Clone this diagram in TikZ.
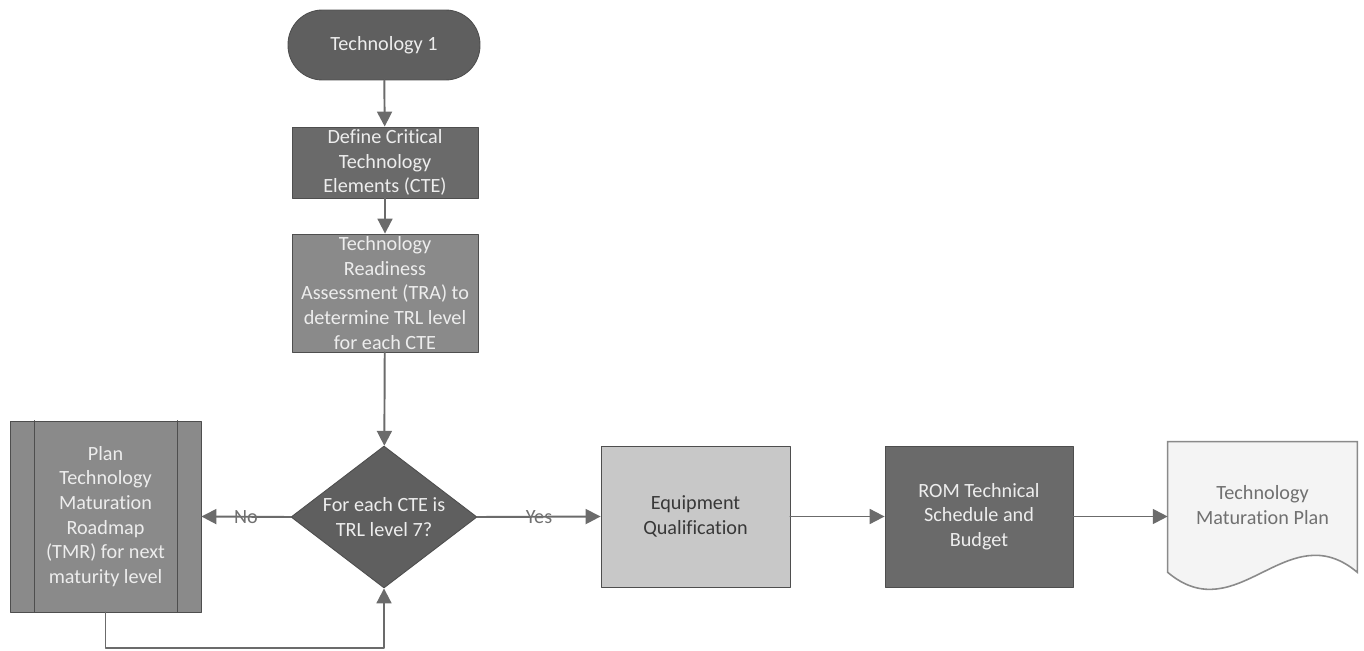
\documentclass[tikz,border=0pt]{standalone}
\usepackage{fontspec}
\setmainfont{Carlito}[Ligatures=NoCommon]
\usepackage{tikz}
\usetikzlibrary{calc,arrows.meta,shapes.geometric,positioning}
\definecolor{linegray}{HTML}{6B6B6B}
\definecolor{edgegray}{HTML}{4E4E4E}
\definecolor{boxdark}{HTML}{6A6A6A}
\definecolor{boxmid}{HTML}{8A8A8A}
\definecolor{boxlight}{HTML}{C8C8C8}
\definecolor{docfill}{HTML}{F4F4F4}
\definecolor{textlight}{HTML}{EDEDED}
\definecolor{textdark}{HTML}{383838}
\definecolor{textdoc}{HTML}{707070}
\pgfdeclarelayer{background}
\pgfsetlayers{background,main}
\tikzset{
  FlowLine/.style={
    draw=linegray, line width=1.1pt,
    -{Triangle[length=8.5pt,width=8.5pt]}
  },
  BoxBase/.style={
    rectangle, draw=edgegray, line width=0.5pt,
    align=center, inner sep=0pt,
    font=\fontsize{11.5pt}{14pt}\selectfont
  },
  DarkBox/.style={BoxBase, fill=boxdark, text=textlight},
  MidBox/.style={BoxBase, fill=boxmid, text=textlight},
  LightBox/.style={BoxBase, fill=boxlight, text=textdark},
  BranchLabel/.style={text=textdoc, font=\fontsize{11.5pt}{14pt}\selectfont}
}

\begin{document}
\begin{tikzpicture}[x=0.02cm, y=-0.02cm, line cap=round, line join=round]
  \useasboundingbox (0,0) rectangle (1364,651);

  % vertical column
  \node[DarkBox, fill=boxdark!90!black, rounded corners=0.69cm,
        minimum width=3.84cm, minimum height=1.4cm] (tech) at (384,45) {Technology 1};
  \node[DarkBox, minimum width=3.72cm, minimum height=1.42cm]
        (cte) at (385,162.5) {Define Critical\\Technology\\Elements (CTE)};
  \node[MidBox, minimum width=3.72cm, minimum height=2.36cm]
        (tra) at (385,293) {Technology\\Readiness\\Assessment (TRA) to\\determine TRL level\\for each CTE};
  \node[DarkBox, fill=boxdark!90!black, shape=diamond, aspect=1.31,
        minimum width=3.72cm, minimum height=2.84cm] (dec) at (384,517)
        {For each CTE is\\TRL level 7?};

  % left branch
  \node[MidBox, minimum width=3.82cm, minimum height=3.82cm]
        (plan) at (105.5,516.5) {Plan\\Technology\\Maturation\\Roadmap\\(TMR) for next\\maturity level};
  \draw[edgegray, line width=0.5pt] ($(plan.north west)+(25,0)$) -- ($(plan.south west)+(25,0)$);
  \draw[edgegray, line width=0.5pt] ($(plan.north east)+(-24,0)$) -- ($(plan.south east)+(-24,0)$);

  % right branch
  \node[LightBox, minimum width=3.78cm, minimum height=2.82cm]
        (equip) at (695.5,516.5) {Equipment\\Qualification};
  \node[DarkBox, minimum width=3.76cm, minimum height=2.82cm]
        (rom) at (979,516.5) {ROM Technical\\Schedule and\\Budget};
  \node[align=center, text=textdoc, minimum width=3.78cm, minimum height=2.52cm,
        inner sep=0pt, font=\fontsize{11.5pt}{14pt}\selectfont] (tmp) at (1262.5,505)
        {Technology\\Maturation Plan};
  \begin{pgfonlayer}{background}
    \filldraw[fill=docfill, draw=boxmid, line width=0.9pt]
      (tmp.north west) -- (tmp.north east) -- ($(tmp.south east)+(0,4)$)
      .. controls ($(tmp.south east)+(-70,-55)$) and ($(tmp.south west)+(70,63)$) .. ($(tmp.south west)+(0,4)$)
      -- cycle;
  \end{pgfonlayer}

  % connectors
  \draw[FlowLine] (tech) -- (cte);
  \draw[FlowLine] (cte) -- (tra);
  \draw[FlowLine] (tra) -- (dec);
  \draw[FlowLine] (dec.west) -- node[BranchLabel] {No} (plan.east);
  \draw[FlowLine] (dec.east) -- node[BranchLabel] {Yes} (equip.west);
  \draw[FlowLine] (equip) -- (rom);
  \draw[FlowLine] (rom.east) -- (rom.east -| tmp.west);

  % loop back
  \coordinate (loopturn) at (384,648);
  \draw[FlowLine] (plan.south) |- (loopturn) -- (dec.south);
\end{tikzpicture}
\end{document}
